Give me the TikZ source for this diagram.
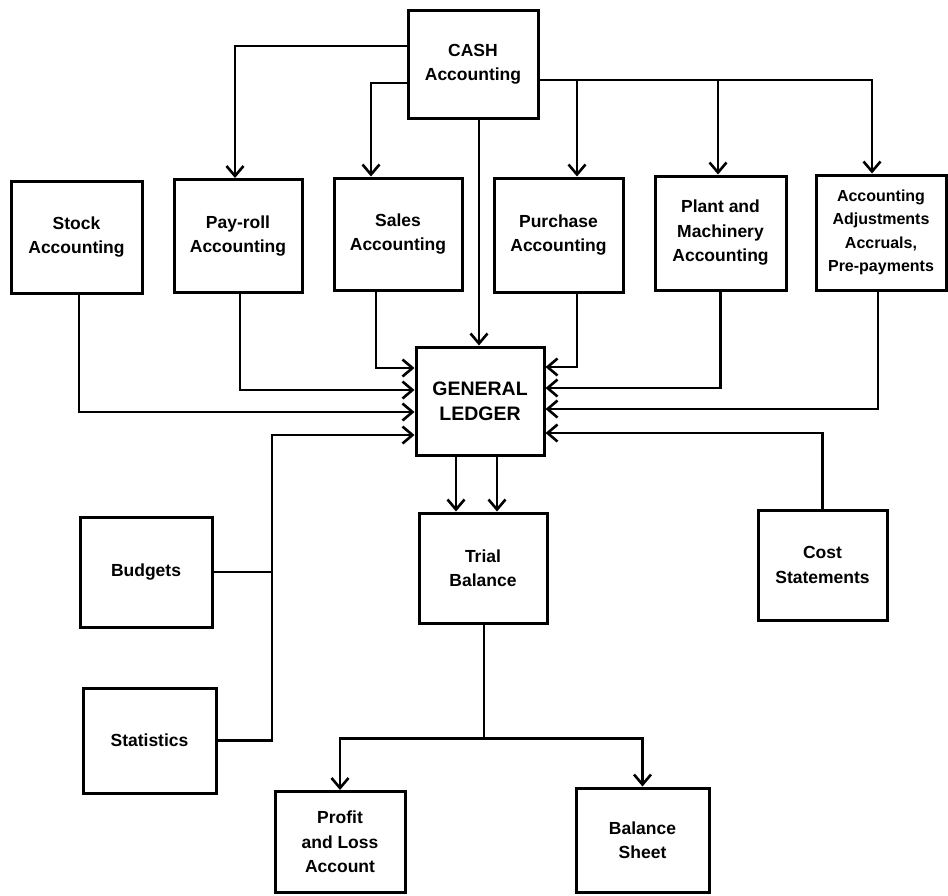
\documentclass[tikz,border=0pt]{standalone}
\usepackage{fontspec}
\setmainfont{Liberation Sans}
\usetikzlibrary{arrows.meta}
\tikzset{
  box/.style={draw, line width=3pt, rectangle, align=center, inner sep=2pt,
    font=\bfseries\fontsize{17.5}{24.5}\selectfont},
  conn/.style={line width=2.8pt, line join=miter},
  arr/.style={conn, -{Straight Barb[length=10pt,width=17pt,line width=2.6pt]}}
}
\begin{document}
\begin{tikzpicture}[x=1pt,y=-1pt]
\useasboundingbox (0,0) rectangle (948,895);
% nodes
\node[box, minimum width=130pt, minimum height=108pt] (cash) at (473,64) {CASH\\Accounting};
\node[box, minimum width=131pt, minimum height=112pt] (stock) at (76.5,237) {Stock\\Accounting};
\node[box, minimum width=128pt, minimum height=113pt] (payroll) at (238,236) {Pay-roll\\Accounting};
\node[box, minimum width=128pt, minimum height=112pt] (sales) at (398,234) {Sales\\Accounting};
\node[box, minimum width=129pt, minimum height=114pt] (purchase) at (558.5,235) {Purchase\\Accounting};
\node[box, minimum width=131pt, minimum height=114pt] (plant) at (720.5,233) {Plant and\\Machinery\\Accounting};
\node[box, minimum width=130pt, minimum height=115pt, inner sep=0pt, font=\bfseries\fontsize{16}{23.5}\selectfont] (adjust) at (881,232.5) {Accounting\\Adjustments\\Accruals,\\Pre-payments};
\node[box, minimum width=128pt, minimum height=108pt, font=\bfseries\fontsize{19.5}{25}\selectfont] (gl) at (480,401) {GENERAL\\LEDGER};
\node[box, minimum width=128pt, minimum height=110pt] (tb) at (483,568) {Trial\\Balance};
\node[box, minimum width=129pt, minimum height=110pt] (cost) at (822.5,565) {Cost\\Statements};
\node[box, minimum width=132pt, minimum height=110pt] (budgets) at (146,572) {Budgets};
\node[box, minimum width=133pt, minimum height=105pt] (stats) at (149.5,740.5) {Statistics};
\node[box, minimum width=130pt, minimum height=101pt] (pl) at (340,842) {Profit\\and Loss\\Account};
\node[box, minimum width=133pt, minimum height=104pt] (bs) at (642.5,840) {Balance\\Sheet};
% named coordinates
\coordinate (cashR) at ([yshift=-16pt]cash.east);
\coordinate (pd) at ([xshift=18.5pt]purchase.north);
\coordinate (md) at ([xshift=-2.5pt]plant.north);
\coordinate (bx) at (272,435);
\coordinate (tj) at ([yshift=-114pt]tb.south);
% cash to row
\draw[arr] ([yshift=18pt]cash.west) -| ([xshift=-3pt]payroll.north);
\draw[arr] ([yshift=-19pt]cash.west) -| ([xshift=-27pt]sales.north);
\draw[arr] (cashR) -| ([xshift=-9pt]adjust.north);
\draw[arr] (cashR -| pd) -- (pd);
\draw[arr] (cashR -| md) -- (md);
\draw[arr] ([xshift=6pt]cash.south) -- ([xshift=6pt]cash.south |- gl.north);
% row to general ledger
\draw[arr] ([xshift=2.5pt]stock.south) |- ([yshift=-11pt]gl.west);
\draw[arr] ([xshift=2pt]payroll.south) |- ([yshift=11pt]gl.west);
\draw[arr] ([xshift=-22pt]sales.south) |- ([yshift=33pt]gl.west);
\draw[arr] ([xshift=18.5pt]purchase.south) |- ([yshift=34pt]gl.east);
\draw[arr] (plant.south) |- ([yshift=13pt]gl.east);
\draw[arr] ([xshift=-3pt]adjust.south) |- ([yshift=-8pt]gl.east);
\draw[arr] (cost.north) |- ([yshift=-32pt]gl.east);
% budgets and statistics
\draw[conn] (budgets.east) -- (budgets.east -| bx);
\draw[arr] (stats.east) -| (bx) -- (bx -| gl.west);
% general ledger to trial balance
\draw[arr] ([xshift=-24pt]gl.south) -- ([xshift=-24pt]gl.south |- tb.north);
\draw[arr] ([xshift=17pt]gl.south) -- ([xshift=17pt]gl.south |- tb.north);
% trial balance to final accounts
\draw[conn] ([xshift=1pt]tb.south) -- ([xshift=1pt]tj);
\draw[arr] ([xshift=1pt]tj) -| (pl.north);
\draw[arr] ([xshift=1pt]tj) -| (bs.north);
\end{tikzpicture}
\end{document}
